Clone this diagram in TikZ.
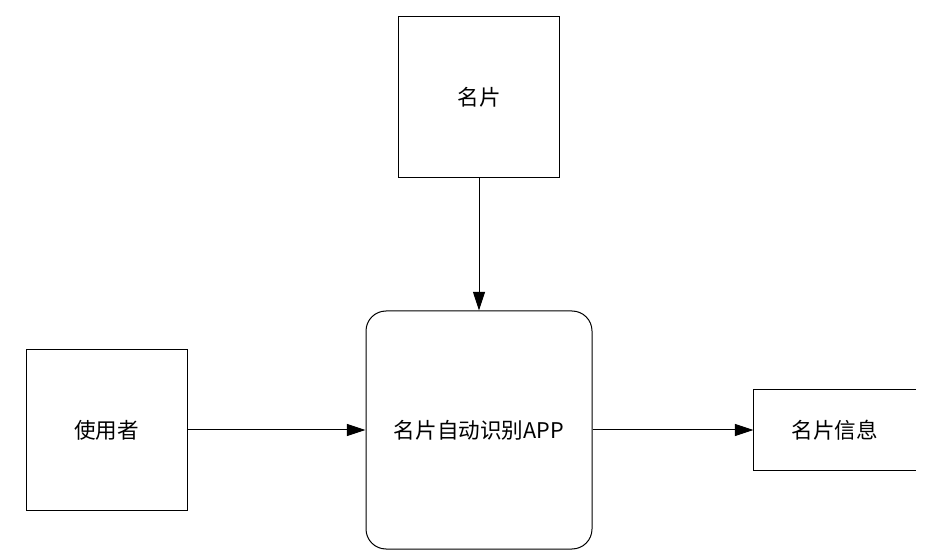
\documentclass[tikz,border=0pt]{standalone}
\usepackage{fontspec}
\setmainfont{Noto Sans CJK SC}
\usetikzlibrary{arrows.meta, positioning}

\begin{document}
\begin{tikzpicture}[
  x=0.75pt, y=-0.75pt,
  entidad/.style={
    rectangle, draw, line width=0.75pt,
    minimum width=120.75pt, minimum height=120.75pt,
    font=\fontsize{16.2}{19}\selectfont
  },
  proceso/.style={
    rectangle, draw, line width=0.75pt, rounded corners=15pt,
    minimum width=169.5pt, minimum height=178.5pt,
    font=\fontsize{16.2}{19}\selectfont
  },
  almacen/.style={
    rectangle, minimum width=121.5pt, minimum height=60pt,
    font=\fontsize{16.2}{19}\selectfont
  },
  flujo/.style={draw, line width=0.75pt, -{Triangle[length=14pt,width=9pt]}}
]
\useasboundingbox (0,0) rectangle (946,559);

% ── NODOS ────────────────────────────────────────────────────

\node[proceso] (app) at (479,430) {名片自动识别APP};
\node[entidad, above=99pt of app] (tarjeta) {名片};
\node[entidad, left=133.5pt of app] (usuario) {使用者};
\node[almacen, right=120.75pt of app] (info) {名片信息};
% almacen abierto a la derecha
\draw[line width=0.75pt] (info.north east) -- (info.north west)
  -- (info.south west) -- (info.south east);

% ── FLUJOS ────────────────────────────────────────────────────

% tarjeta -> app
\draw[flujo] (tarjeta.south) -- (app.north);
% usuario -> app
\draw[flujo] (usuario.east) -- (app.west);
% app -> info
\draw[flujo] (app.east) -- (info.west);

\end{tikzpicture}
\end{document}
